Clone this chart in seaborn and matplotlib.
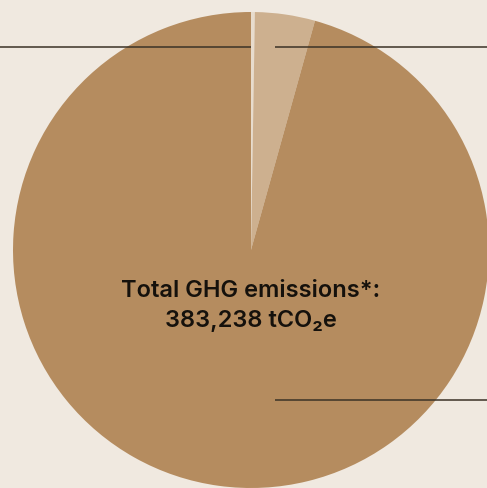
import matplotlib
matplotlib.use("Agg")
import matplotlib.pyplot as plt
import seaborn as sns

scopes = ["Scope 1", "Scope 2", "Scope 3"]
emissions = [1000, 15600, 366638]
colors = ["#e8dccd", "#cdb08f", "#b58c5f"]
total_label = "Total GHG emissions*:\n383,238 tCO₂e"

BG = "#f0e9e0"

sns.set_style("white")
plt.rcParams["font.family"] = ["Inter", "DejaVu Sans"]

fig = plt.figure(figsize=(4.87, 4.88), dpi=100)
fig.patch.set_facecolor(BG)
ax = fig.add_axes([0, 0, 1, 1])
ax.set_facecolor(BG)

ax.pie(emissions, colors=colors, startangle=90, counterclock=False,
       radius=1.0, wedgeprops={"linewidth": 0, "antialiased": True})

# lignes de renvoi
line_kw = dict(color="#3b3226", linewidth=1.1, solid_capstyle="butt")
ax.plot([-1.06, 0.0], [0.853, 0.853], **line_kw)
ax.plot([0.101, 1.0], [0.853, 0.853], **line_kw)
ax.plot([0.101, 1.0], [-0.630, -0.630], **line_kw)

ax.text(0.0, -0.235, total_label, ha="center", va="center",
        fontsize=17, fontweight="semibold", color="#15110c", linespacing=1.45)

ax.set_xlim(-251 / 238, 236 / 238)
ax.set_ylim(-238 / 238, 250 / 238)
ax.set_aspect("equal")
ax.axis("off")

fig.savefig("out.png", dpi=100, facecolor=BG)
